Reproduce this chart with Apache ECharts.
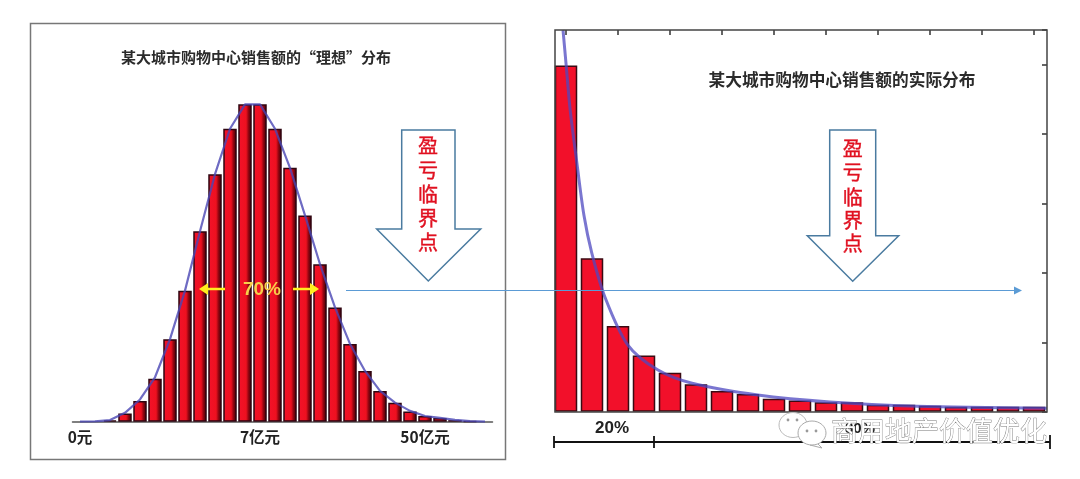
<!DOCTYPE html>
<html><head><meta charset="utf-8">
<style>html,body{margin:0;padding:0;background:#fff}#c{width:1080px;height:479px}</style>
<script src="https://cdn.jsdelivr.net/npm/echarts@6/dist/echarts.min.js"></script>
</head><body><div id="c"></div>
<script>
const idealCategories = ['0元','','','','','','','','','','','','7亿元','','','','','','','','','','','50亿元','','','',''];
const idealBars = [null,null,0.4,2.6,6.5,13.5,26,41.3,60,78,92.3,100,100,92.3,80,65,49.6,36,24.5,16,9.7,6,3.2,1.8,1.2,0.5,0.2,null];
const idealCurve = [0,0.1,0.5,2.8,7,14,26,41.3,60,78,92.3,100,100,92.3,80,65,49.6,36,24.5,16,9.7,6,3.4,1.8,1.2,0.6,0.2,0];
const actualCategories = ['1','2','3','4','5','6','7','8','9','10','11','12','13','14','15','16','17','18','19'];
const actualBars = [4.99,2.21,1.235,0.81,0.56,0.395,0.3,0.255,0.187,0.16,0.135,0.135,0.1,0.1,0.087,0.072,0.072,0.072,0.072];
const actualCurveX = [0.385,0.5,0.66,0.92,1.19,1.49,2,2.88,4.04,5.35,7.88,10.65,14,19];
const actualCurveY = [5.5,5.02,4.35,3.58,2.83,2.29,1.65,0.96,0.6,0.41,0.24,0.14,0.08,0.05];
const titleIdeal = '某大城市购物中心销售额的“理想”分布';
const titleActual = '某大城市购物中心销售额的实际分布';
const breakEven = ['盈','亏','临','界','点'];

const CJK = '"Noto Sans CJK SC","Noto Sans",sans-serif';
const blue = '#5b9bd5', arrowEdge = '#4a7ba0', yellow = '#ffee1e';
const T = (x,y,text,size,fill,extra) => ({type:'text',z:30,x,y,style:Object.assign({text,fontSize:size,fill,fontFamily:CJK,align:'center',verticalAlign:'middle'},extra||{})});
const L = (x1,y1,x2,y2,stroke,w,z) => ({type:'line',z:z||30,shape:{x1,y1,x2,y2},style:{stroke,lineWidth:w}});
const P = (points,style,z) => ({type:'polygon',z:z||30,shape:{points},style});
const bigArrow = (l,r,wl,wr,top,sh,tipx,tip) => P([[l,top],[r,top],[r,sh],[wr,sh],[tipx,tip],[wl,sh],[l,sh]],{fill:'#fff',stroke:arrowEdge,lineWidth:1.5},12);
const graphics = [
  {type:'rect',z:1,shape:{x:30.5,y:23.5,width:475,height:436},style:{fill:'none',stroke:'#777',lineWidth:1.5}},
  {type:'rect',z:5,shape:{x:555,y:30,width:492,height:382},style:{fill:'none',stroke:'#444',lineWidth:1.5}},
  T(256,57,titleIdeal,15,'#2b2b2b',{fontWeight:'bold'}),
  T(842,80,titleActual,16.7,'#2b2b2b',{fontWeight:'bold'}),
  bigArrow(401.7,455,376.7,480.7,130,229,428.3,281),
  bigArrow(829.7,875.7,807.3,898.7,130,235.7,852.7,281.3),
  L(346,290.5,1016,290.5,blue,1.2,20),
  P([[1014,286.5],[1022,290.5],[1014,294.5]],{fill:blue},20),
  L(225,289,205,289,yellow,2.5),
  P([[208,283],[199,289],[208,295]],{fill:yellow}),
  L(293,289,313,289,yellow,2.5),
  P([[310,283],[319,289],[310,295]],{fill:yellow}),
  T(262,290,'70%',19,'#f7cf4a',{fontWeight:'bold',fontFamily:'"Liberation Sans",sans-serif'}),
  T(612,428,'20%',17,'#222',{fontWeight:'bold',fontFamily:'"Liberation Sans",sans-serif'}),
  T(860,429,'80%',15,'#222',{fontWeight:'bold',fontFamily:'"Liberation Sans",sans-serif'}),
  L(554,442,1050,442,'#111',1.8),
  L(554,436,554,448,'#111',1.8),
  L(654,436,654,448,'#111',1.8),
  L(1050,435,1050,449,'#111',1.8),
  {type:'ellipse',z:40,shape:{cx:793,cy:425,rx:14,ry:12.5},style:{fill:'#fff',stroke:'#bbb',lineWidth:1}},
  {type:'ellipse',z:41,shape:{cx:812,cy:433,rx:14,ry:12},style:{fill:'#fff',stroke:'#aaa',lineWidth:1}},
  P([[817,443],[822,448],[810,445]],{fill:'#fff',stroke:'#aaa',lineWidth:1},40),
  ...[[788,420],[797,420],[807,431],[816,431]].map(([cx,cy])=>({type:'circle',z:42,shape:{cx,cy,r:1.4},style:{fill:'#999'}})),
  T(939,431,'商用地产价值优化',27,'#fff',{stroke:'#777',lineWidth:0.8,fontWeight:'normal'}),
];
const redStroke = {stroke:'#e01020',lineWidth:0.4};
[145,170,194,218,242].forEach((y,i)=>graphics.push(T(428,y,breakEven[i],20,'#e01020',redStroke)));
[148,172,197,220,243].forEach((y,i)=>graphics.push(T(852.7,y,breakEven[i],20,'#e01020',redStroke)));

const chart = echarts.init(document.getElementById('c'),null,{renderer:'canvas'});
const off = {show:false};
chart.setOption({
  animation:false,
  backgroundColor:'#fff',
  grid:[
    {left:72.5,width:420,top:72.6,height:349.1},
    {left:553,width:494,top:30,height:381.7}
  ],
  xAxis:[
    {gridIndex:0,type:'category',data:idealCategories,axisTick:off,
     axisLine:{show:true,onZero:false,lineStyle:{color:'#555',width:1.5}},
     axisLabel:{show:true,interval:0,margin:8,fontSize:15.5,fontWeight:'bold',color:'#222',fontFamily:CJK}},
    {gridIndex:1,type:'category',data:actualCategories,axisLine:{show:false,onZero:false},axisTick:off,axisLabel:off},
    {gridIndex:1,type:'category',position:'top',data:actualCategories,axisLine:{show:false,onZero:false},axisLabel:off,
     axisTick:{show:true,inside:true,length:5,interval:1,alignWithLabel:true,lineStyle:{color:'#333',width:1.5}}},
    {gridIndex:1,type:'value',min:0,max:19,show:false}
  ],
  yAxis:[
    {gridIndex:0,type:'value',min:0,max:110,show:false},
    {gridIndex:1,type:'value',position:'right',min:0,max:5.5,interval:1,splitLine:off,axisLabel:off,axisLine:{show:false,onZero:false},
     axisTick:{show:true,inside:true,length:5,lineStyle:{color:'#333',width:1.5}}}
  ],
  series:[
    {type:'bar',xAxisIndex:0,yAxisIndex:0,data:idealBars,barWidth:13.5,z:3,
     itemStyle:{borderColor:'#2e0510',borderWidth:1.5,
       color:{type:'linear',x:0,y:0,x2:1,y2:0,colorStops:[{offset:0,color:'#f2122a'},{offset:0.58,color:'#ee101f'},{offset:0.78,color:'#86040f'},{offset:1,color:'#3e0208'}]}}},
    {type:'line',xAxisIndex:0,yAxisIndex:0,data:idealCurve,symbol:'none',z:4,
     lineStyle:{color:'#4a46b4',width:2.2,opacity:0.8}},
    {type:'bar',xAxisIndex:1,yAxisIndex:1,data:actualBars,barWidth:22.5,z:3,
     itemStyle:{color:'#f2102a',borderColor:'#3a0a12',borderWidth:1.5}},
    {type:'line',xAxisIndex:3,yAxisIndex:1,data:actualCurveX.map((x,i)=>[x,actualCurveY[i]]),symbol:'none',smooth:0.3,z:4,
     lineStyle:{color:'#4e48c0',width:3,opacity:0.75}}
  ],
  graphic:graphics
});
</script></body></html>
